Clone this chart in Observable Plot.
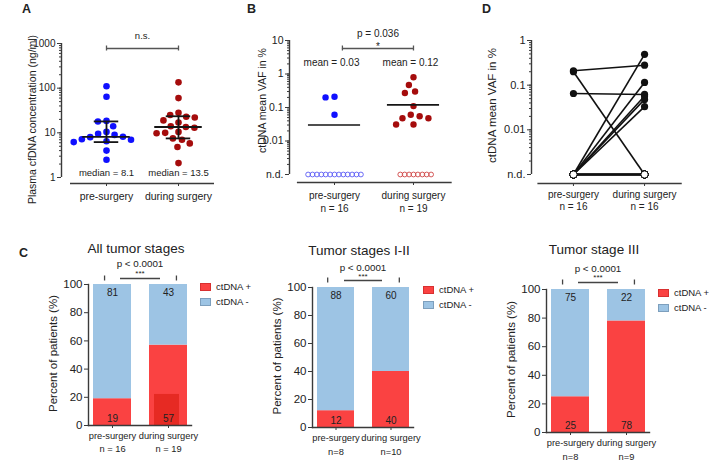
<!DOCTYPE html>
<html><head><meta charset="utf-8">
<script src="https://cdn.jsdelivr.net/npm/d3@7"></script>
<script src="https://cdn.jsdelivr.net/npm/@observablehq/plot@0.6"></script>
<style>
html,body{margin:0;padding:0;background:#fff;}
#root{position:relative;width:709px;height:462px;overflow:hidden;font-family:'Liberation Sans',Arial,sans-serif;color:#222;}
.panel{position:absolute;}
.panel svg{overflow:visible;}
.letter{position:absolute;font-weight:bold;font-size:12.5px;line-height:12px;}
.legend{position:absolute;font-size:9.5px;line-height:8px;}
.legend .row{display:flex;align-items:center;height:8px;margin-bottom:7px;white-space:nowrap;}
.legend .sw{width:11px;height:8px;margin-right:5px;box-sizing:border-box;border:1px solid;}
</style></head><body><div id="root"></div>
<script>
// ---------- data ----------
const ND = 0.001; // axis position used for "n.d." (not detected)
const categories = ["pre-surgery", "during surgery"];

// Panel A: plasma cfDNA concentration (ng/ml)
const cfdnaPre = [110, 64, 18.5, 18, 14, 10.5, 9.5, 9, 8.2, 8, 7.2, 7, 6.5, 6.2, 4, 2.5];
const cfdnaDuring = [135, 60, 28, 25, 23, 22, 19, 17, 14, 13.5, 13, 10.5, 10, 9.8, 7.5, 7, 5.8, 4.8, 2.1];
const medianA = [8.1, 13.5];
const q1A = [6.2, 7.5];
const q3A = [18, 23.5];
const pA = "n.s.";

// Panel B: ctDNA mean VAF in % (0 = n.d.)
const vafPre = [0.21, 0.2, 0.061, 0, 0, 0, 0, 0, 0, 0, 0, 0, 0, 0, 0, 0];
const vafDuring = [0.8, 0.47, 0.3, 0.27, 0.11, 0.061, 0.055, 0.048, 0.048, 0.031, 0.031, 0, 0, 0, 0, 0, 0, 0, 0];
const meanB = [0.03, 0.12];
const nB = ["n = 16", "n = 19"];
const pB = "p = 0.036";
const starsB = "*";

// Panel D: paired patients (0 = n.d.)
const pairedPre =    [0.21, 0.2, 0.065, 0, 0, 0, 0, 0, 0, 0, 0, 0, 0, 0, 0, 0];
const pairedDuring = [0.28, 0, 0.062, 0.49, 0.115, 0.057, 0.048, 0.033, 0, 0, 0, 0, 0, 0, 0, 0];
const nD = ["n = 16", "n = 16"];

// Panel C: percent of patients
const stageTitles = ["All tumor stages", "Tumor stages I-II", "Tumor stage III"];
const statuses = ["ctDNA +", "ctDNA -"];
const posPct = [[19, 57], [12, 40], [25, 78]];
const negPct = [[81, 43], [88, 60], [75, 22]];
const nC = [["n = 16", "n = 19"], ["n=8", "n=10"], ["n=8", "n=9"]];
const pC = ["p < 0.0001", "p < 0.0001", "p < 0.0001"];
const starsC = ["***", "***", "***"];
const darkPatchAll = [null, 22]; // darker red patch inside "All tumor stages" bar

// ---------- styles ----------
const AX = "#3a3a3a";
const RED = "#fa4242", BLUE = "#9dc4e4", DARKRED = "#e2261d";
const FONT = "'Liberation Sans', Arial, sans-serif";
const baseStyle = {fontFamily: FONT, fontSize: "10px", color: "#222", background: "none", overflow: "visible"};
const root = document.getElementById("root");

function place(node, left, top) {
  const d = document.createElement("div");
  d.className = "panel"; d.style.left = left + "px"; d.style.top = top + "px";
  d.appendChild(node); root.appendChild(d);
}
const fmtLog = v => v === ND ? "n.d." : String(v);
const minorTicks = (a, b) => d3.scaleLog().domain([a, b]).ticks();

function logYAxis(cfg, major, fontSize) {
  return [
    Plot.ruleX([cfg.xd[0]], {y1: cfg.yd[0], y2: cfg.yd[1], stroke: AX, strokeWidth: 1.4}),
    Plot.axisY({ticks: minorTicks(cfg.yd[0], cfg.yd[1]), tickSize: 2, tickFormat: () => "", stroke: AX, label: null}),
    Plot.axisY({ticks: major, tickSize: 4, tickPadding: 2, tickFormat: fmtLog, fontSize, stroke: AX, label: null})
  ];
}
function frameH(cfg) { return cfg.H - cfg.mt - cfg.mb; }
function unit(cfg) { return (cfg.W - cfg.ml - cfg.mr) / (cfg.xd[1] - cfg.xd[0]); }
function yTitle(text, dx, dy, fontSize) {
  return Plot.text([text], {frameAnchor: "left", textAnchor: "middle", lineAnchor: "middle", rotate: -90, dx, dy, fontSize});
}

// ---------- Panel A ----------
{
  const A = {W: 230, H: 215, ml: 61, mr: 7, mt: 43, mb: 38, xd: [0.375, 2.625], yd: [1, 1000]};
  const half = unit(A) / 2;
  const stats = categories.map((c, i) => ({x: i + 1, med: medianA[i], q1: q1A[i], q3: q3A[i]}));
  const line = {stroke: "#151515", strokeWidth: 1.8};
  const svg = Plot.plot({
    width: A.W, height: A.H, marginLeft: A.ml, marginRight: A.mr, marginTop: A.mt, marginBottom: A.mb,
    x: {type: "linear", domain: A.xd}, y: {type: "log", domain: A.yd},
    style: baseStyle,
    marks: [
      ...logYAxis(A, [1, 10, 100, 1000], 10),
      Plot.ruleY([A.yd[0]], {x1: 0.5, x2: 2.5, dy: 6, stroke: AX, strokeWidth: 1.4}),
      Plot.axisX({ticks: [1, 2], tickFormat: i => categories[i - 1], tickSize: 3, tickPadding: 6, dy: 6, fontSize: 10.5, stroke: AX, label: null}),
      yTitle("Plasma cfDNA concentration (ng/ml)", -29, 9, 10.5),
      Plot.dot(cfdnaPre.map(v => ({v})), Plot.dodgeX({anchor: "middle", r: 3.3, padding: 2}, {y: "v", r: 3.3, fill: "#1010ff", dx: -half})),
      Plot.dot(cfdnaDuring.map(v => ({v})), Plot.dodgeX({anchor: "middle", r: 3.3, padding: 2}, {y: "v", r: 3.3, fill: "#a50c0c", dx: half})),
      Plot.ruleY(stats, {y: "med", x1: d => d.x - 0.33, x2: d => d.x + 0.33, ...line}),
      Plot.ruleY(stats, {y: "q1", x1: d => d.x - 0.17, x2: d => d.x + 0.17, ...line}),
      Plot.ruleY(stats, {y: "q3", x1: d => d.x - 0.17, x2: d => d.x + 0.17, ...line}),
      Plot.ruleX(stats, {x: "x", y1: "q1", y2: "q3", ...line}),
      Plot.text(stats, {x: "x", y: A.yd[0], dy: -4.5, text: d => `median = ${d.med}`, fontSize: 9.5}),
      Plot.ruleY([A.yd[1]], {x1: 1, x2: 2, dy: 5, stroke: "#555", strokeWidth: 1.3}),
      Plot.ruleX([1, 2], {insetBottom: frameH(A) - 5, dy: 2.5, stroke: "#555", strokeWidth: 1.3}),
      Plot.text([pA], {x: 1.5, y: A.yd[1], dy: -8, fontSize: 9.5})
    ]
  });
  place(svg, 0, 0);
}

// ---------- Panel B ----------
{
  const B = {W: 230, H: 215, ml: 59, mr: 2, mt: 40, mb: 41, xd: [0.43, 2.57], yd: [ND, 10]};
  const half = unit(B) / 2;
  const groups = [
    {vals: vafPre, fill: "#1010ff", open: "#5a5af5", dx: -half},
    {vals: vafDuring, fill: "#a50c0c", open: "#cf4545", dx: half}
  ];
  const dotMarks = groups.flatMap(g => [
    Plot.dot(g.vals.filter(v => v > 0).map(v => ({v})), Plot.dodgeX({anchor: "middle", r: 3.2, padding: 2.6}, {y: "v", r: 3.2, fill: g.fill, dx: g.dx})),
    Plot.dot(g.vals.filter(v => v === 0).map(v => ({v})), Plot.dodgeX({anchor: "middle", r: 2.2, padding: 0}, {y: () => ND, r: 2.4, stroke: g.open, fill: "none", strokeWidth: 0.9, dx: g.dx}))
  ]);
  const means = categories.map((c, i) => ({x: i + 1, m: meanB[i]}));
  const svg = Plot.plot({
    width: B.W, height: B.H, marginLeft: B.ml, marginRight: B.mr, marginTop: B.mt, marginBottom: B.mb,
    x: {type: "linear", domain: B.xd}, y: {type: "log", domain: B.yd},
    style: baseStyle,
    marks: [
      ...logYAxis(B, [ND, 0.01, 0.1, 1, 10], 10.5),
      Plot.ruleY([B.yd[0]], {x1: 0.53, x2: 2.49, dy: 8, stroke: AX, strokeWidth: 1.4}),
      Plot.axisX({ticks: [1, 2], tickFormat: i => categories[i - 1] + "\n" + nB[i - 1], tickSize: 3, tickPadding: 4.5, dy: 8, fontSize: 10, lineHeight: 1.3, stroke: AX, label: null}),
      yTitle("ctDNA mean VAF in %", -27, -7, 10.5),
      ...dotMarks,
      Plot.ruleY(means, {y: "m", x1: d => d.x - 0.33, x2: d => d.x + 0.33, stroke: "#151515", strokeWidth: 1.6}),
      Plot.text(means, {x: "x", y: B.yd[1], dy: 22, dx: -3, text: d => `mean = ${d.m}`, fontSize: 10}),
      Plot.ruleY([B.yd[1]], {x1: 1.1, x2: 2, dy: 8, stroke: "#555", strokeWidth: 1.3}),
      Plot.ruleX([1.1, 2], {insetBottom: frameH(B) - 5, dy: 5.5, stroke: "#555", strokeWidth: 1.3}),
      Plot.text([pB], {x: 1.55, y: B.yd[1], dy: -7, fontSize: 10}),
      Plot.text([starsB], {x: 1.55, y: B.yd[1], dy: 6, fontSize: 10})
    ]
  });
  place(svg, 230, 0);
}

// ---------- Panel D ----------
{
  const D = {W: 249, H: 215, ml: 71, mr: 23, mt: 40, mb: 41, xd: [0.41, 2.59], yd: [ND, 1]};
  const pairs = pairedPre.map((p, i) => ({pre: p || ND, dur: pairedDuring[i] || ND, preND: !p, durND: !pairedDuring[i]}));
  const pts = pairs.flatMap(d => [{x: 1, v: d.pre, nd: d.preND}, {x: 2, v: d.dur, nd: d.durND}]);
  const svg = Plot.plot({
    width: D.W, height: D.H, marginLeft: D.ml, marginRight: D.mr, marginTop: D.mt, marginBottom: D.mb,
    x: {type: "linear", domain: D.xd}, y: {type: "log", domain: D.yd},
    style: baseStyle,
    marks: [
      ...logYAxis(D, [ND, 0.01, 0.1, 1], 11),
      Plot.ruleY([D.yd[0]], {x1: 0.5, x2: 2.53, dy: 9, stroke: AX, strokeWidth: 1.4}),
      Plot.axisX({ticks: [1, 2], tickFormat: i => categories[i - 1] + "\n" + nD[i - 1], tickSize: 3, tickPadding: 2.5, dy: 9, fontSize: 10, lineHeight: 1.2, stroke: AX, label: null}),
      yTitle("ctDNA mean VAF in %", -39, -2, 11.5),
      Plot.link(pairs, {x1: 1, y1: "pre", x2: 2, y2: "dur", stroke: "#111", strokeWidth: 1.6}),
      Plot.dot(pts.filter(d => !d.nd), {x: "x", y: "v", r: 3.6, fill: "#111"}),
      Plot.dot(pts.filter(d => d.nd), {x: "x", y: "v", r: 3.6, fill: "white", stroke: "#111", strokeWidth: 1})
    ]
  });
  place(svg, 460, 0);
}

// ---------- Panel C ----------
const cCfg = [
  {left: 0, W: 230, ml: 88, mr: 39, mt: 54, bottom: 195, titleDy: -36, pDy: -21, starDy: -11, brDy: -6, pad: 0.5, legend: [200, 283]},
  {left: 230, W: 230, ml: 82, mr: 47, mt: 57, bottom: 197, titleDy: -37, pDy: -20, starDy: -11, brDy: -7, pad: 1.2, legend: [423, 286]},
  {left: 460, W: 249, ml: 86, mr: 60, mt: 59, bottom: 202, titleDy: -40, pDy: -21, starDy: -12, brDy: -7, pad: 1.2, legend: [658, 289]}
];
const padIn = 0.33, padOut = 0.07;
cCfg.forEach((cfg, k) => {
  const H = 232;
  const rows = [];
  categories.forEach((c, i) => {
    rows.push({cat: c, status: statuses[0], value: posPct[k][i]});
    rows.push({cat: c, status: statuses[1], value: negPct[k][i]});
  });
  const labels = categories.map((c, i) => ({cat: c, pos: posPct[k][i], neg: negPct[k][i]}));
  const patch = k === 0 ? categories.map((c, i) => ({cat: c, v: darkPatchAll[i]})).filter(d => d.v != null) : [];
  const fh = cfg.bottom - cfg.mt;
  const fw = cfg.W - cfg.ml - cfg.mr;
  const bw = fw / (2 - padIn + 2 * padOut) * (1 - padIn);
  const ins = 27, capOff = bw / 2 - ins;
  const bracket = {stroke: "#444", strokeWidth: 1.3};
  const mid = {lineAnchor: "middle"};
  const svg = Plot.plot({
    width: cfg.W, height: H, marginLeft: cfg.ml, marginRight: cfg.mr, marginTop: cfg.mt, marginBottom: H - cfg.bottom,
    x: {type: "band", domain: categories, paddingInner: padIn, paddingOuter: padOut},
    y: {domain: [0, 100]},
    color: {domain: statuses, range: [RED, BLUE]},
    style: baseStyle,
    marks: [
      Plot.barY(rows, {x: "cat", y: "value", fill: "status"}),
      Plot.barY(patch, {x: "cat", y: "v", fill: DARKRED, insetLeft: 5, insetRight: 8, fillOpacity: 0.85}),
      Plot.text(labels, {x: "cat", y: 100, dy: 8, text: d => String(d.neg), fontSize: 10, fill: "#222"}),
      Plot.text(labels, {x: "cat", y: 0, dy: -7, text: d => String(d.pos), fontSize: 10, fill: "#222"}),
      Plot.frame({anchor: "left", stroke: AX, strokeWidth: 1.4}),
      Plot.frame({anchor: "bottom", stroke: AX, strokeWidth: 1.4}),
      Plot.axisY({ticks: [0, 20, 40, 60, 80, 100], tickSize: 4, tickPadding: 2, fontSize: 11.5, stroke: AX, label: null}),
      Plot.axisX({tickSize: 3, tickPadding: cfg.pad, tickFormat: c => c + "\n" + nC[k][categories.indexOf(c)], fontSize: 9.3, lineHeight: 1.45, stroke: AX, label: null}),
      yTitle("Percent of patients (%)", -35, -1.5, 11.5),
      Plot.text([stageTitles[k]], {frameAnchor: "top", dy: cfg.titleDy, dx: -4, fontSize: 13.5, ...mid}),
      Plot.text([pC[k]], {frameAnchor: "top", dy: cfg.pDy, fontSize: 9.8, ...mid}),
      Plot.text([starsC[k]], {frameAnchor: "top", dy: cfg.starDy, fontSize: 8, ...mid}),
      Plot.ruleY([100], {x1: () => categories[0], x2: () => categories[1], dy: cfg.brDy, insetLeft: ins, insetRight: ins, ...bracket}),
      Plot.ruleX([categories[0]], {x: d => d, dx: capOff, insetBottom: fh - 5, dy: cfg.brDy - 2.5, ...bracket}),
      Plot.ruleX([categories[1]], {x: d => d, dx: -capOff, insetBottom: fh - 5, dy: cfg.brDy - 2.5, ...bracket})
    ]
  });
  place(svg, cfg.left, 230);
  // legend
  const lg = document.createElement("div");
  lg.className = "legend";
  lg.style.left = cfg.legend[0] + "px"; lg.style.top = cfg.legend[1] + "px";
  lg.innerHTML = statuses.map((s, i) =>
    `<div class="row"><span class="sw" style="background:${i ? BLUE : RED};border-color:${i ? "#7d9fbd" : "#d83030"}"></span>${s}</div>`).join("");
  root.appendChild(lg);
});

// panel letters
[["A", 22, 3], ["B", 247, 3], ["D", 482, 3], ["C", 19, 247]].forEach(([t, x, y]) => {
  const d = document.createElement("div");
  d.className = "letter"; d.textContent = t; d.style.left = x + "px"; d.style.top = y + "px";
  root.appendChild(d);
});
</script></body></html>
